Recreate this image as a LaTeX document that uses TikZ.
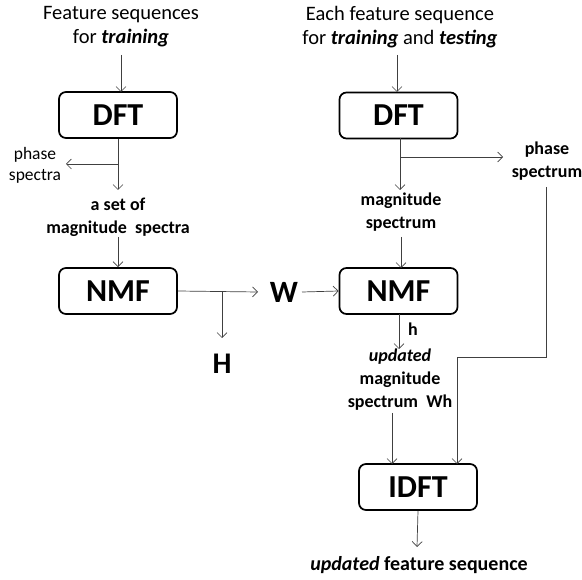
\documentclass[tikz,border=0pt]{standalone}
\usepackage{fontspec}
\setmainfont{Carlito}
\usetikzlibrary{arrows.meta}
\tikzset{
  box/.style={draw=black, line width=1.7pt, rounded corners=7pt, minimum width=118pt, minimum height=46pt, inner sep=0pt, font=\bfseries\fontsize{32}{33}\selectfont},
  txt/.style={inner sep=0pt, align=center, font=\fontsize{20.5}{24}\selectfont},
  btxt/.style={inner sep=0pt, align=center, font=\bfseries\fontsize{18}{23}\selectfont},
  big/.style={inner sep=0pt, font=\bfseries\fontsize{31}{32}\selectfont},
  conn/.style={draw=black!75, line width=0.7pt, -{Straight Barb[length=5pt,width=10pt]}}
}
\begin{document}
\begin{tikzpicture}[x=1pt,y=-1pt]
\useasboundingbox (0,0) rectangle (582,580);
% boxes
\node[box] (dftL) at (118,115) {DFT};
\node[box] (nmfL) at (118,291) {NMF};
\node[box] (dftR) at (398.5,115.5) {DFT};
\node[box] (nmfR) at (398.5,291) {NMF};
\node[box] (idft) at (418,487) {IDFT};
% texts
\node[txt] (inL) at (121,27) {Feature sequences\\for \textbf{\textit{training}}};
\node[txt] (inR) at (400,27) {Each feature sequence\\for \textbf{\textit{training}} and \textbf{\textit{testing}}};
\node[txt, font=\fontsize{17.5}{21}\selectfont] (phL) at (35,165) {phase\\spectra};
\node[btxt] (magL) at (118,217) {a set of\\magnitude~~spectra};
\node[big] (W) at (284,292) {W};
\node[big, font=\bfseries\fontsize{30}{31}\selectfont] (H) at (222,364) {H};
\node[btxt] (phR) at (547,161) {phase\\spectrum};
\node[btxt] (magR) at (401,212) {magnitude\\spectrum};
\node[btxt] (h) at (413,329) {h};
\node[btxt] (updR) at (400,380) {\textit{updated}\\magnitude\\spectrum~~Wh};
\node[btxt, font=\bfseries\fontsize{20}{22}\selectfont] (out) at (419,565) {\textit{updated} feature sequence};
% branch points
\coordinate (bL) at (118,164);
\coordinate (bW) at (222,292);
\coordinate (bR) at (400,157);
\coordinate (c1) at (546,357);
\coordinate (c2) at (457,357);
% connectors
\draw[conn] (121,55) -- (121,92);
\draw[conn] (dftL.south) -- (118,190);
\draw[conn] (bL) -- (66,164);
\draw[conn] (118,237) -- (nmfL.north);
\draw[conn] (nmfL.east) -- (258,292);
\draw[conn] (bW) -- (222,338);
\draw[conn] (302,292) -- (nmfR.west);
\draw[conn] (397,55) -- (397,92);
\draw[conn] (400,138) -- (400,190);
\draw[conn] (bR) -- (503,157);
\draw[conn] (401,237) -- (401,268);
\draw[conn] (546,187) -- (c1) -- (c2) -- (457,464);
\draw[conn] (399,314) -- (399,349);
\draw[conn] (392,413) -- (392,464);
\draw[conn] (idft.south) -- (417,547);
\end{tikzpicture}
\end{document}
